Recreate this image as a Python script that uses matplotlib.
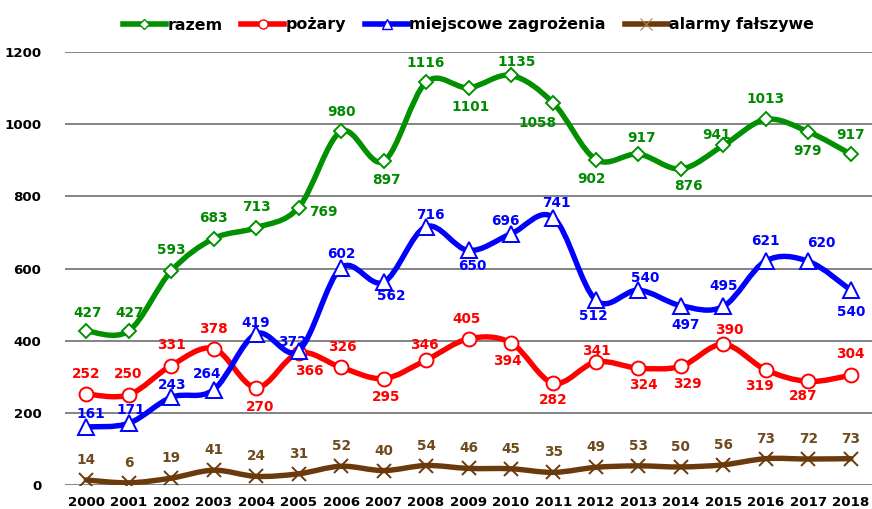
import matplotlib
matplotlib.use("Agg")
import matplotlib.pyplot as plt
from matplotlib.path import Path
from matplotlib.patches import PathPatch
from matplotlib.lines import Line2D

years = [str(y) for y in range(2000, 2019)]
razem = [427, 427, 593, 683, 713, 769, 980, 897, 1116, 1101, 1135, 1058, 902, 917, 876, 941, 1013, 979, 917]
pozary = [252, 250, 331, 378, 270, 366, 326, 295, 346, 405, 394, 282, 341, 324, 329, 390, 319, 287, 304]
miejscowe = [161, 171, 243, 264, 419, 372, 602, 562, 716, 650, 696, 741, 512, 540, 497, 495, 621, 620, 540]
alarmy = [14, 6, 19, 41, 24, 31, 52, 40, 54, 46, 45, 35, 49, 53, 50, 56, 73, 72, 73]
series_names = ["razem", "pożary", "miejscowe zagrożenia", "alarmy fałszywe"]
y_ticks = [0, 200, 400, 600, 800, 1000, 1200]

# label offsets in pixels (dx, dy downwards)
off_razem = [(1, -18), (1, -18), (0, -21), (0, -21), (0, -21), (25, 4), (0, -19), (3, 19), (0, -19), (2, 19),
             (6, -13), (-16, 20), (-4, 19), (3, -16), (8, 17), (-7, -10), (0, -20), (-1, 19), (0, -19)]
off_pozary = [(0, -20), (-1, -21), (0, -21), (0, -20), (4, 19), (11, 18), (1, -20), (3, 18), (-2, -15), (-2, -20),
              (-4, 18), (0, 17), (1, -11), (5, 17), (7, 18), (6, -14), (-6, 16), (-5, 15), (0, -21)]
off_miejsc = [(5, -13), (2, -13), (1, -12), (-7, -16), (0, -11), (-6, -9), (0, -14), (8, 14), (4, -12), (4, 16),
              (-6, -13), (3, -15), (-3, 16), (7, -12), (5, 19), (0, -20), (0, -20), (13, -18), (0, 22)]
off_alarmy = [(0, -20)] * 19

W, H = 872, 509
fig = plt.figure(figsize=(W / 100, H / 100), dpi=100)
ax = fig.add_axes([65 / W, (H - 485) / H, (W - 65) / W, (485 - 52) / H])
ax.set_xlim(-0.5, len(years) - 0.5)
ax.set_ylim(0, 1200)
ax.set_yticks(y_ticks)
ax.set_xticks(range(len(years)))
ax.set_xticklabels(years)
for s in ax.spines.values():
    s.set_visible(False)
ax.tick_params(length=0)
ax.tick_params(axis="y", pad=17)
ax.tick_params(axis="x", pad=8)
for lab in ax.get_xticklabels() + ax.get_yticklabels():
    lab.set_fontfamily("DejaVu Sans")
    lab.set_fontweight("bold")
    lab.set_fontsize(9.6)
    lab.set_color("black")
for yv in y_ticks:
    ax.axhline(yv, color="#7a7a7a", lw=1.3, zorder=1)


def smooth_path(xs, ys):
    n = len(xs)
    pts = list(zip(xs, ys))
    verts = [pts[0]]
    codes = [Path.MOVETO]
    for i in range(n - 1):
        p0 = pts[i - 1] if i > 0 else pts[i]
        p1 = pts[i]
        p2 = pts[i + 1]
        p3 = pts[i + 2] if i + 2 < n else pts[i + 1]
        c1 = (p1[0] + (p2[0] - p0[0]) / 6, p1[1] + (p2[1] - p0[1]) / 6)
        c2 = (p2[0] - (p3[0] - p1[0]) / 6, p2[1] - (p3[1] - p1[1]) / 6)
        verts += [c1, c2, p2]
        codes += [Path.CURVE4] * 3
    return Path(verts, codes)


specs = [
    (razem, "#009000", "#008a00", "D", 7.5, off_razem),
    (pozary, "#ff0000", "#ff0000", "o", 10, off_pozary),
    (miejscowe, "#0000ff", "#0000ff", "^", 11, off_miejsc),
    (alarmy, "#6b3a0c", "#6e4b1e", "x", 10, off_alarmy),
]
xs = list(range(len(years)))
handles = []
for k, (vals, col, lcol, mk, ms, offs) in enumerate(specs):
    z = 3 + k
    patch = PathPatch(smooth_path(xs, vals), fill=False, edgecolor=col, lw=3.9,
                      capstyle="round", joinstyle="round", zorder=z)
    ax.add_patch(patch)
    if mk == "x":
        ax.plot(xs, vals, linestyle="none", marker=mk, markersize=ms, markeredgecolor=col,
                markeredgewidth=1.4, zorder=z + 0.5)
    else:
        ax.plot(xs, vals, linestyle="none", marker=mk, markersize=ms, markerfacecolor="white",
                markeredgecolor=col, markeredgewidth=1.4, zorder=z + 0.5)
    for x, v, (dx, dy) in zip(xs, vals, offs):
        ax.annotate(str(v), (x, v), xytext=(dx, -dy), textcoords="offset pixels",
                    ha="center", va="center", fontsize=9.8, fontweight="bold",
                    family="DejaVu Sans", color=lcol, zorder=10, annotation_clip=False)
    if mk == "x":
        h = Line2D([], [], color=col, lw=4, marker=mk, markersize=9, markeredgecolor="#b08050",
                   markeredgewidth=0.8)
    else:
        h = Line2D([], [], color=col, lw=4, marker=mk, markersize=ms * 0.65, markerfacecolor="white",
                   markeredgecolor=col, markeredgewidth=1.0)
    handles.append(h)

fig.legend(handles, series_names, loc="center", bbox_to_anchor=(468.5 / W, 1 - 25 / H),
           ncol=4, frameon=False, handlelength=2.7, handletextpad=0.1, columnspacing=1.2,
           prop={"family": "DejaVu Sans", "weight": "bold", "size": 11.4})

fig.savefig("out.png", dpi=100)
